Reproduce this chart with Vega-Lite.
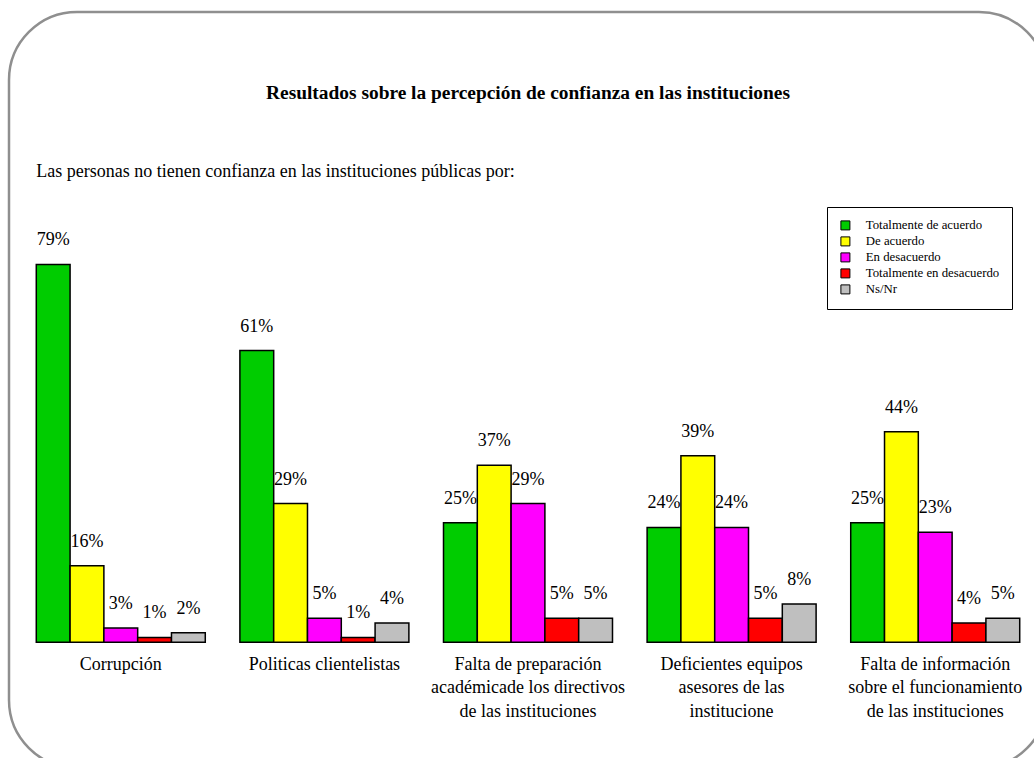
{
  "$schema": "https://vega.github.io/schema/vega-lite/v6.json",
  "width": 1038,
  "height": 756,
  "autosize": {"type": "none"},
  "padding": {"left": 9, "top": 12, "right": -13, "bottom": -10},
  "background": "white",
  "config": {
    "view": {"stroke": "#8f8f8f", "strokeWidth": 2.5, "cornerRadius": 68, "fill": "white"}
  },
  "datasets": {
    "main": [
      {"cat": "Corrupción", "resp": "Totalmente de acuerdo", "v": 79},
      {"cat": "Corrupción", "resp": "De acuerdo", "v": 16},
      {"cat": "Corrupción", "resp": "En desacuerdo", "v": 3},
      {"cat": "Corrupción", "resp": "Totalmente en desacuerdo", "v": 1},
      {"cat": "Corrupción", "resp": "Ns/Nr", "v": 2},
      {"cat": "Politicas clientelistas", "resp": "Totalmente de acuerdo", "v": 61},
      {"cat": "Politicas clientelistas", "resp": "De acuerdo", "v": 29},
      {"cat": "Politicas clientelistas", "resp": "En desacuerdo", "v": 5},
      {"cat": "Politicas clientelistas", "resp": "Totalmente en desacuerdo", "v": 1},
      {"cat": "Politicas clientelistas", "resp": "Ns/Nr", "v": 4},
      {"cat": "Falta de preparación", "resp": "Totalmente de acuerdo", "v": 25},
      {"cat": "Falta de preparación", "resp": "De acuerdo", "v": 37},
      {"cat": "Falta de preparación", "resp": "En desacuerdo", "v": 29},
      {"cat": "Falta de preparación", "resp": "Totalmente en desacuerdo", "v": 5},
      {"cat": "Falta de preparación", "resp": "Ns/Nr", "v": 5},
      {"cat": "Deficientes equipos", "resp": "Totalmente de acuerdo", "v": 24},
      {"cat": "Deficientes equipos", "resp": "De acuerdo", "v": 39},
      {"cat": "Deficientes equipos", "resp": "En desacuerdo", "v": 24},
      {"cat": "Deficientes equipos", "resp": "Totalmente en desacuerdo", "v": 5},
      {"cat": "Deficientes equipos", "resp": "Ns/Nr", "v": 8},
      {"cat": "Falta de información", "resp": "Totalmente de acuerdo", "v": 25},
      {"cat": "Falta de información", "resp": "De acuerdo", "v": 44},
      {"cat": "Falta de información", "resp": "En desacuerdo", "v": 23},
      {"cat": "Falta de información", "resp": "Totalmente en desacuerdo", "v": 4},
      {"cat": "Falta de información", "resp": "Ns/Nr", "v": 5}
    ],
    "cats": [
      {"cat": "Corrupción", "label": "Corrupción"},
      {"cat": "Politicas clientelistas", "label": "Politicas clientelistas"},
      {"cat": "Falta de preparación", "label": "Falta de preparación\nacadémicade los directivos\nde las instituciones"},
      {"cat": "Deficientes equipos", "label": "Deficientes equipos\nasesores de las\ninstitucione"},
      {"cat": "Falta de información", "label": "Falta de información\nsobre el funcionamiento\nde las instituciones"}
    ],
    "heading": [
      {"cat": "Falta de preparación", "t": "Resultados sobre la percepción de confianza en las instituciones"}
    ],
    "sub": [
      {"cat": "Corrupción", "t": "Las personas no tienen confianza en las instituciones públicas por:"}
    ]
  },
  "layer": [
    {
      "data": {"name": "main"},
      "mark": {"type": "bar", "stroke": "black", "strokeWidth": 1.5},
      "encoding": {
        "x": {
          "field": "cat", "type": "nominal", "axis": null,
          "scale": {"domain": ["Corrupción", "Politicas clientelistas", "Falta de preparación", "Deficientes equipos", "Falta de información"], "paddingInner": 0.17, "paddingOuter": 0.134}
        },
        "xOffset": {
          "field": "resp", "type": "nominal",
          "scale": {"domain": ["Totalmente de acuerdo", "De acuerdo", "En desacuerdo", "Totalmente en desacuerdo", "Ns/Nr"], "paddingInner": 0, "paddingOuter": 0}
        },
        "y": {"field": "v", "type": "quantitative", "axis": null, "scale": {"domain": [-26.3, 131.8], "nice": false, "zero": false}},
        "y2": {"datum": 0},
        "color": {
          "field": "resp", "type": "nominal",
          "scale": {"domain": ["Totalmente de acuerdo", "De acuerdo", "En desacuerdo", "Totalmente en desacuerdo", "Ns/Nr"], "range": ["#00cc00", "#ffff00", "#ff00ff", "#ff0000", "#bfbfbf"]},
          "legend": {
            "orient": "none", "legendX": 818, "legendY": 195, "title": null,
            "strokeColor": "black", "fillColor": "white", "padding": 12,
            "symbolType": "square", "symbolSize": 81, "symbolStrokeColor": "black", "symbolStrokeWidth": 1,
            "labelFont": "Liberation Serif", "labelFontSize": 12.8, "labelColor": "black",
            "rowPadding": 1, "labelOffset": 14
          }
        }
      }
    },
    {
      "data": {"name": "main"},
      "transform": [{"calculate": "datum.v + '%'", "as": "lbl"}],
      "mark": {"type": "text", "baseline": "middle", "dy": -24, "fontSize": 18, "font": "Liberation Serif"},
      "encoding": {
        "x": {"field": "cat", "type": "nominal"},
        "xOffset": {"field": "resp", "type": "nominal"},
        "y": {"field": "v", "type": "quantitative"},
        "text": {"field": "lbl"}
      }
    },
    {
      "data": {"name": "cats"},
      "mark": {"type": "text", "baseline": "top", "fontSize": 18, "lineHeight": 23.5, "lineBreak": "\n", "font": "Liberation Serif"},
      "encoding": {
        "x": {"field": "cat", "type": "nominal"},
        "y": {"datum": -2.8},
        "text": {"field": "label"}
      }
    },
    {
      "data": {"name": "heading"},
      "mark": {"type": "text", "baseline": "middle", "fontSize": 19.4, "fontWeight": "bold", "font": "Liberation Serif"},
      "encoding": {
        "x": {"field": "cat", "type": "nominal"},
        "y": {"datum": 114.9},
        "text": {"field": "t"}
      }
    },
    {
      "data": {"name": "sub"},
      "mark": {"type": "text", "baseline": "middle", "align": "left", "fontSize": 18, "font": "Liberation Serif"},
      "encoding": {
        "x": {"field": "cat", "type": "nominal", "bandPosition": 0},
        "y": {"datum": 98.3},
        "text": {"field": "t"}
      }
    }
  ]
}
